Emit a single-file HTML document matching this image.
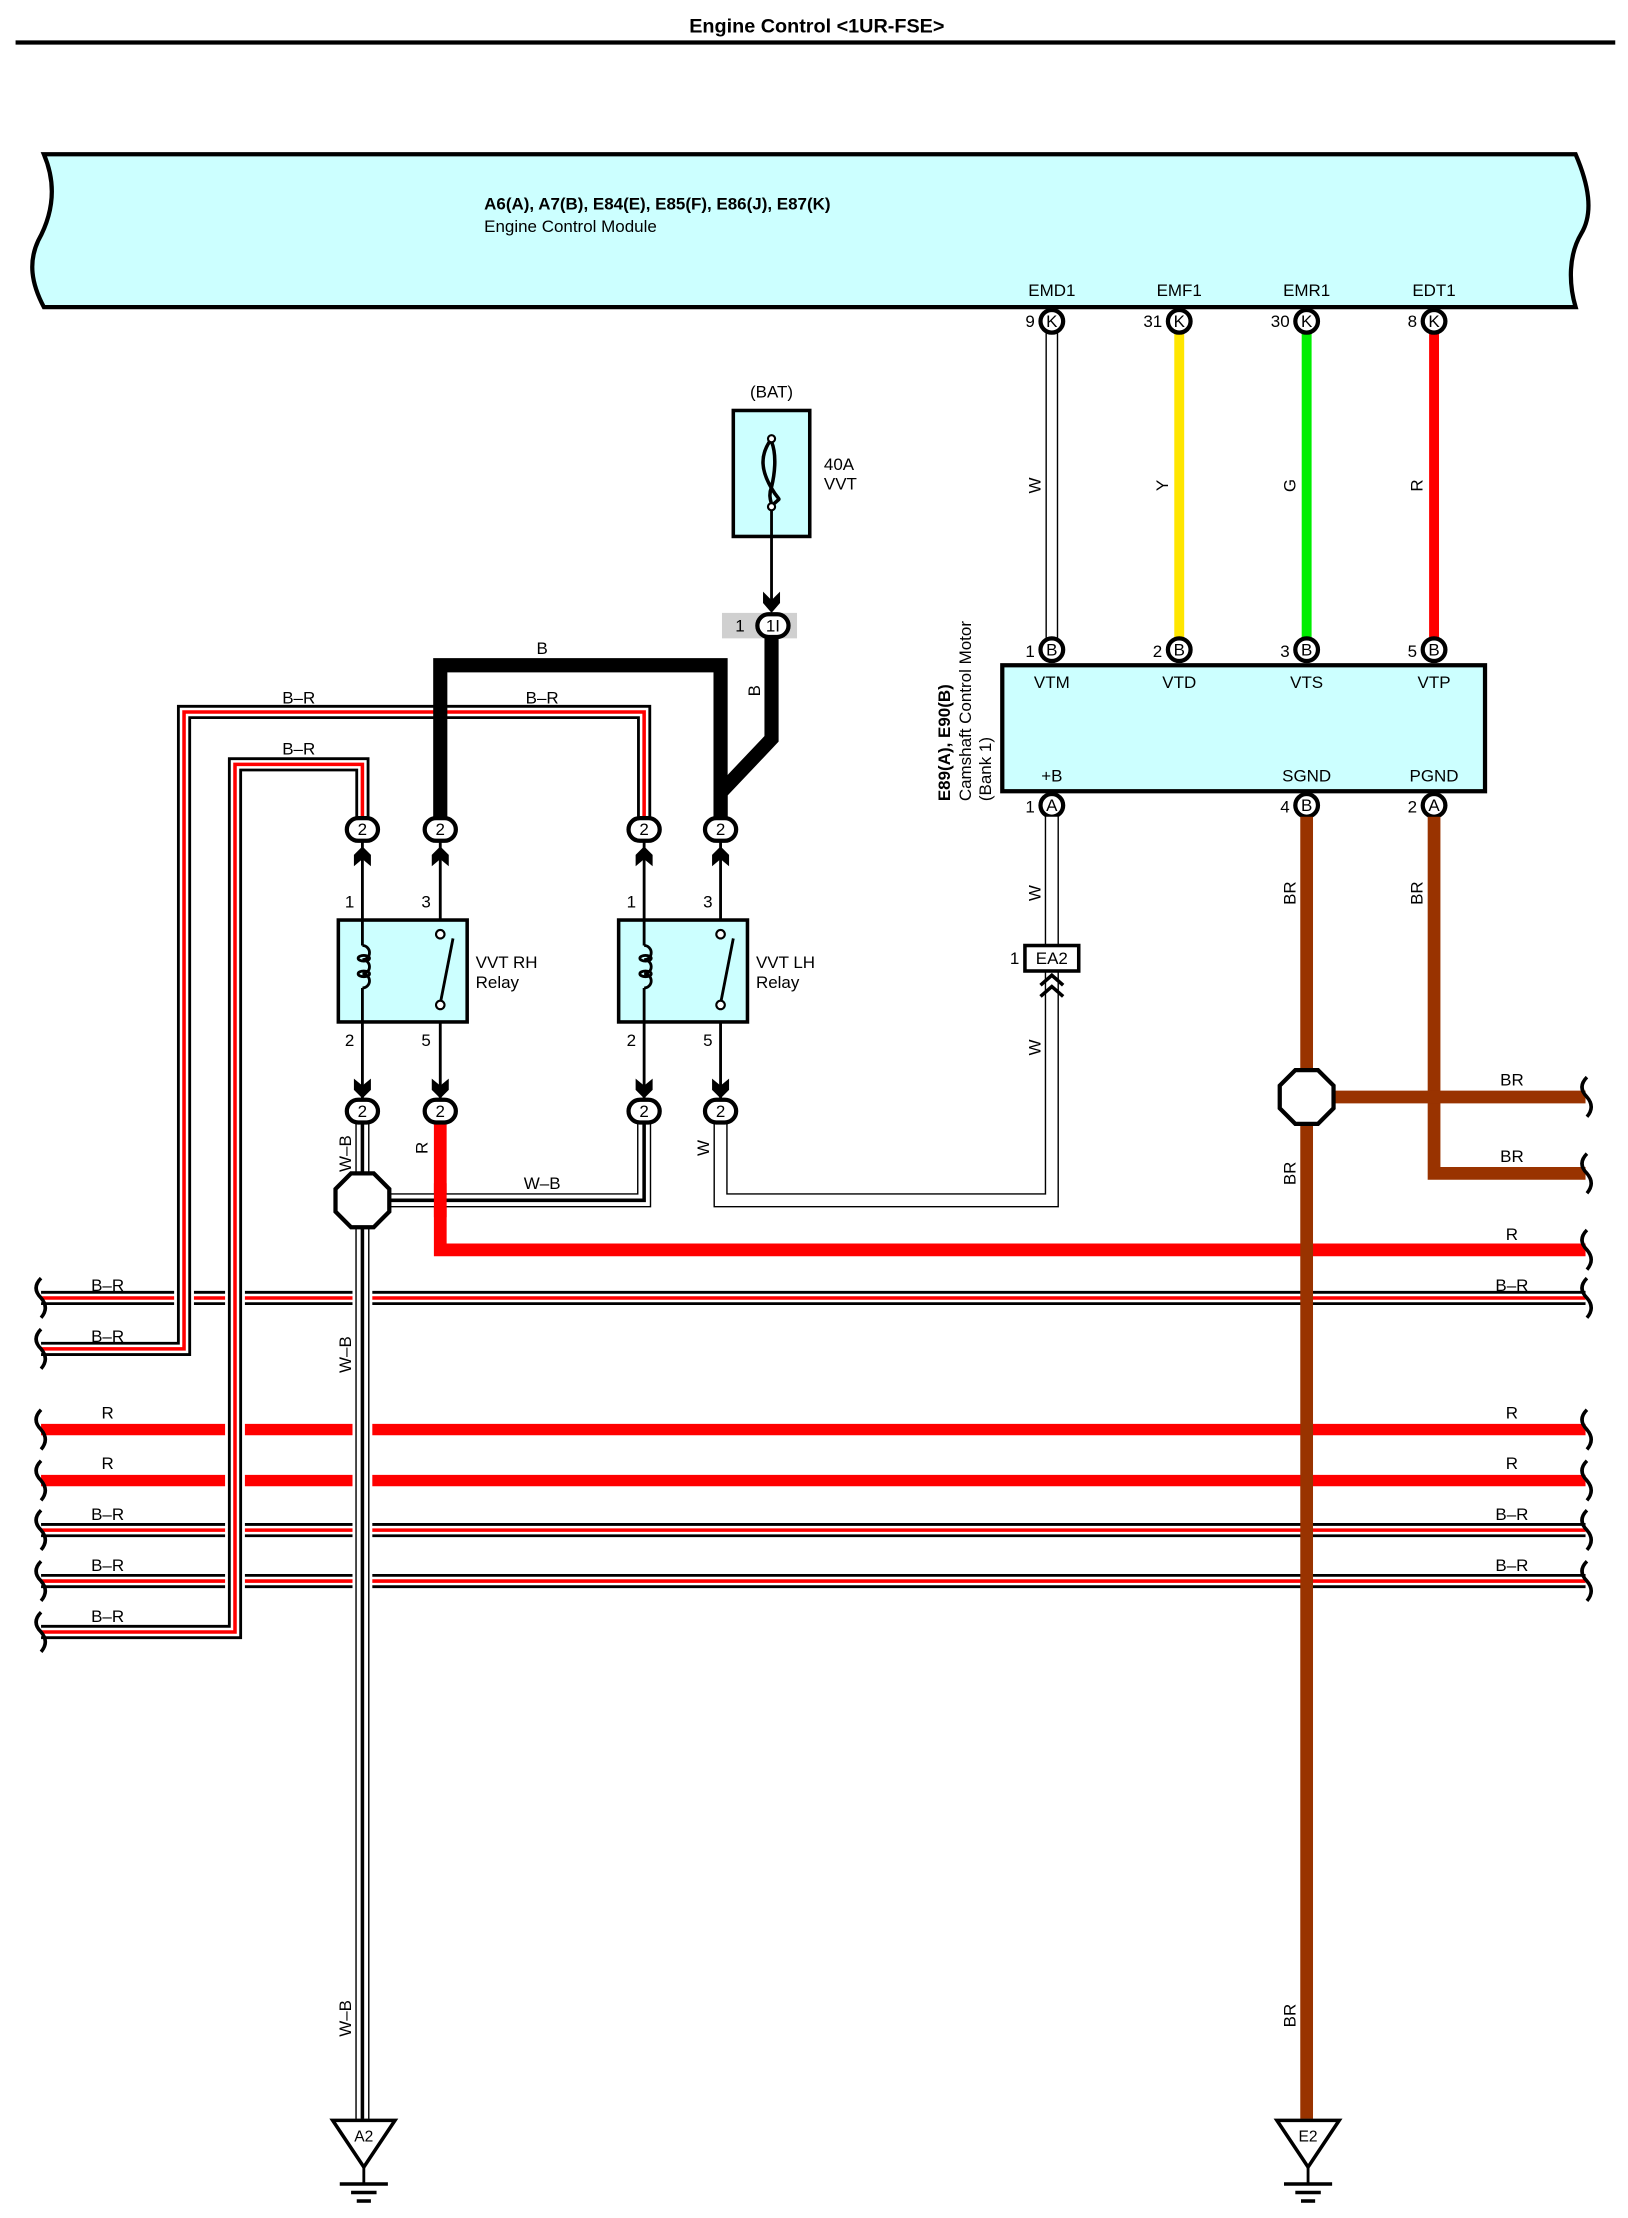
<!DOCTYPE html>
<html><head><meta charset="utf-8"><style>
html,body{margin:0;padding:0;background:#fff}
svg{display:block}
text{font-family:"Liberation Sans",sans-serif;font-size:12px;fill:#000}
</style></head><body>
<svg width="1628" height="2218" viewBox="0 0 1150 1567" preserveAspectRatio="none" xmlns="http://www.w3.org/2000/svg">
<rect width="1150" height="1567" fill="#fff"/>
<text x="577" y="23" text-anchor="middle" style="font-size:14px;font-weight:bold">Engine Control &lt;1UR-FSE&gt;</text>
<line x1="11" y1="30" x2="1141" y2="30" stroke="#000" stroke-width="3"/>

<path d="M31,109 L1113,109 C1122,130 1126,150 1117,165 C1108,180 1108,200 1113,217 L31,217 C22,200 20,185 27,170 C38,150 40,130 31,109 Z" fill="#ccffff" stroke="#000" stroke-width="3"/>
<text x="342" y="148" style="font-weight:bold;font-size:12px">A6(A), A7(B), E84(E), E85(F), E86(J), E87(K)</text>
<text x="342" y="164">Engine Control Module</text>
<g text-anchor="middle">
<text x="743" y="209">EMD1</text><text x="833" y="209">EMF1</text><text x="923" y="209">EMR1</text><text x="1013" y="209">EDT1</text>
</g>

<line x1="743" y1="227" x2="743" y2="459" stroke="#000" stroke-width="9"/>
<line x1="743" y1="227" x2="743" y2="459" stroke="#fff" stroke-width="7"/>
<line x1="833" y1="227" x2="833" y2="459" stroke="#ffe600" stroke-width="7"/>
<line x1="923" y1="227" x2="923" y2="459" stroke="#00ee00" stroke-width="7"/>
<line x1="1013" y1="227" x2="1013" y2="459" stroke="#ff0000" stroke-width="7"/>
<g text-anchor="middle">
<text transform="translate(735,343) rotate(-90)">W</text>
<text transform="translate(825,343) rotate(-90)">Y</text>
<text transform="translate(915,343) rotate(-90)">G</text>
<text transform="translate(1005,343) rotate(-90)">R</text>
</g>
<g fill="#fff" stroke="#000" stroke-width="3">
<circle cx="743" cy="227" r="8"/><circle cx="833" cy="227" r="8"/><circle cx="923" cy="227" r="8"/><circle cx="1013" cy="227" r="8"/>
<circle cx="743" cy="459" r="8"/><circle cx="833" cy="459" r="8"/><circle cx="923" cy="459" r="8"/><circle cx="1013" cy="459" r="8"/>
<circle cx="743" cy="569" r="8"/><circle cx="923" cy="569" r="8"/><circle cx="1013" cy="569" r="8"/>
</g>
<g text-anchor="middle" style="font-size:11px">
<text x="743" y="231">K</text><text x="833" y="231">K</text><text x="923" y="231">K</text><text x="1013" y="231">K</text>
<text x="743" y="463">B</text><text x="833" y="463">B</text><text x="923" y="463">B</text><text x="1013" y="463">B</text>
<text x="743" y="573">A</text><text x="923" y="573">B</text><text x="1013" y="573">A</text>
</g>
<g text-anchor="end">
<text x="731" y="231">9</text><text x="821" y="231">31</text><text x="911" y="231">30</text><text x="1001" y="231">8</text>
<text x="731" y="464">1</text><text x="821" y="464">2</text><text x="911" y="464">3</text><text x="1001" y="464">5</text>
<text x="731" y="574">1</text><text x="911" y="574">4</text><text x="1001" y="574">2</text>
</g>

<rect x="708" y="470" width="341" height="89" fill="#ccffff" stroke="#000" stroke-width="3"/>
<g text-anchor="middle">
<text x="743" y="486">VTM</text><text x="833" y="486">VTD</text><text x="923" y="486">VTS</text><text x="1013" y="486">VTP</text>
<text x="743" y="552">+B</text><text x="923" y="552">SGND</text><text x="1013" y="552">PGND</text>
</g>
<text transform="translate(671,566) rotate(-90)" style="font-weight:bold">E89(A), E90(B)</text>
<text transform="translate(686,566) rotate(-90)">Camshaft Control Motor</text>
<text transform="translate(700,566) rotate(-90)">(Bank 1)</text>

<g>
<line x1="29" y1="917" x2="1120" y2="917" stroke="#000" stroke-width="10"/>
<line x1="29" y1="917" x2="1120" y2="917" stroke="#fff" stroke-width="6"/>
<line x1="29" y1="917" x2="1120" y2="917" stroke="#f00" stroke-width="2.5"/>
<line x1="29" y1="1010" x2="1120" y2="1010" stroke="#f00" stroke-width="8"/>
<line x1="29" y1="1046" x2="1120" y2="1046" stroke="#f00" stroke-width="8"/>
<line x1="29" y1="1081" x2="1120" y2="1081" stroke="#000" stroke-width="10"/>
<line x1="29" y1="1081" x2="1120" y2="1081" stroke="#fff" stroke-width="6"/>
<line x1="29" y1="1081" x2="1120" y2="1081" stroke="#f00" stroke-width="2.5"/>
<line x1="29" y1="1117" x2="1120" y2="1117" stroke="#000" stroke-width="10"/>
<line x1="29" y1="1117" x2="1120" y2="1117" stroke="#fff" stroke-width="6"/>
<line x1="29" y1="1117" x2="1120" y2="1117" stroke="#f00" stroke-width="2.5"/>
</g>

<g fill="none" stroke-linejoin="miter">
<path d="M29,953 L130,953 L130,503 L455,503 L455,586" stroke="#fff" stroke-width="14"/>
<path d="M29,953 L130,953 L130,503 L455,503 L455,586" stroke="#000" stroke-width="10"/>
<path d="M29,953 L130,953 L130,503 L455,503 L455,586" stroke="#fff" stroke-width="6"/>
<path d="M29,953 L130,953 L130,503 L455,503 L455,586" stroke="#f00" stroke-width="2.5"/>
<path d="M29,1153 L166,1153 L166,540 L256,540 L256,586" stroke="#fff" stroke-width="14"/>
<path d="M29,1153 L166,1153 L166,540 L256,540 L256,586" stroke="#000" stroke-width="10"/>
<path d="M29,1153 L166,1153 L166,540 L256,540 L256,586" stroke="#fff" stroke-width="6"/>
<path d="M29,1153 L166,1153 L166,540 L256,540 L256,586" stroke="#f00" stroke-width="2.5"/>
</g>

<path d="M311,586 L311,470 L509,470 L509,586" fill="none" stroke="#000" stroke-width="10"/>
<path d="M545,450 L545,522 L509,560 L509,586" fill="none" stroke="#000" stroke-width="10"/>
<text x="383" y="462" text-anchor="middle">B</text>
<text transform="translate(537,488) rotate(-90)" text-anchor="middle">B</text>
<g text-anchor="middle">
<text x="211" y="497">B–R</text><text x="383" y="497">B–R</text><text x="211" y="533">B–R</text>
</g>

<text x="545" y="281" text-anchor="middle">(BAT)</text>
<rect x="518" y="290" width="54" height="89" fill="#ccffff" stroke="#000" stroke-width="2.5"/>
<path d="M545,310 C536,322 538,333 545,345 C552,357 552,349 545,358 M545,312 C549,322 547,336 545,344 C542,352 546,356 545,358" fill="none" stroke="#000" stroke-width="2.5"/>
<circle cx="545" cy="310" r="2.5" fill="#fff" stroke="#000" stroke-width="1.5"/>
<circle cx="545" cy="358" r="2.5" fill="#fff" stroke="#000" stroke-width="1.5"/>
<text x="582" y="332">40A</text><text x="582" y="346">VVT</text>
<line x1="545" y1="361" x2="545" y2="430" stroke="#000" stroke-width="2"/>
<polygon points="539,418 545,424 551,418 551,426 545,433 539,426" fill="#000"/>
<rect x="510" y="433" width="53" height="18" fill="#d0d0d0"/>
<rect x="535" y="434" width="22" height="16" rx="8" fill="#fff" stroke="#000" stroke-width="3"/>
<text x="546" y="446" text-anchor="middle">1I</text>
<text x="526" y="446" text-anchor="end">1</text>

<g stroke="#000" stroke-width="2">
<line x1="256" y1="594" x2="256" y2="777"/><line x1="311" y1="594" x2="311" y2="777"/>
<line x1="455" y1="594" x2="455" y2="777"/><line x1="509" y1="594" x2="509" y2="777"/>
</g>
<rect x="239" y="650" width="91" height="72" fill="#ccffff" stroke="#000" stroke-width="2.5"/>
<rect x="437" y="650" width="91" height="72" fill="#ccffff" stroke="#000" stroke-width="2.5"/>
<g fill="none" stroke="#000" stroke-width="2">
<line x1="256" y1="650" x2="256" y2="668"/><line x1="256" y1="698" x2="256" y2="722"/>
<line x1="455" y1="650" x2="455" y2="668"/><line x1="455" y1="698" x2="455" y2="722"/>
<path d="M256,668 a5,5 0 0 1 0,10 a5,5 0 0 1 0,10 a5,5 0 0 1 0,10"/>
<path d="M455,668 a5,5 0 0 1 0,10 a5,5 0 0 1 0,10 a5,5 0 0 1 0,10"/>
<ellipse cx="257" cy="677" rx="4" ry="2"/><ellipse cx="257" cy="688" rx="4" ry="2"/>
<ellipse cx="456" cy="677" rx="4" ry="2"/><ellipse cx="456" cy="688" rx="4" ry="2"/>
<line x1="311" y1="709" x2="320" y2="663"/><line x1="509" y1="709" x2="518" y2="663"/>
</g>
<g fill="#fff" stroke="#000" stroke-width="1.5">
<circle cx="311" cy="660" r="3"/><circle cx="311" cy="710" r="3"/>
<circle cx="509" cy="660" r="3"/><circle cx="509" cy="710" r="3"/>
</g>
<text x="336" y="684">VVT RH</text><text x="336" y="698">Relay</text>
<text x="534" y="684">VVT LH</text><text x="534" y="698">Relay</text>
<g text-anchor="middle">
<text x="247" y="641">1</text><text x="301" y="641">3</text><text x="446" y="641">1</text><text x="500" y="641">3</text>
<text x="247" y="739">2</text><text x="301" y="739">5</text><text x="446" y="739">2</text><text x="500" y="739">5</text>
</g>
<g fill="#000">
<polygon points="250,612 250,604 256,598 262,604 262,612 256,607"/>
<polygon points="305,612 305,604 311,598 317,604 317,612 311,607"/>
<polygon points="449,612 449,604 455,598 461,604 461,612 455,607"/>
<polygon points="503,612 503,604 509,598 515,604 515,612 509,607"/>
<polygon points="250,762 256,767 262,762 262,770 256,776 250,770"/>
<polygon points="305,762 311,767 317,762 317,770 311,776 305,770"/>
<polygon points="449,762 455,767 461,762 461,770 455,776 449,770"/>
<polygon points="503,762 509,767 515,762 515,770 509,776 503,770"/>
</g>

<path d="M509,792 L509,848 L743,848 L743,686" fill="none" stroke="#000" stroke-width="10"/>
<path d="M509,792 L509,848 L743,848 L743,686" fill="none" stroke="#fff" stroke-width="8"/>
<line x1="743" y1="577" x2="743" y2="668" stroke="#000" stroke-width="10"/>
<line x1="743" y1="577" x2="743" y2="668" stroke="#fff" stroke-width="8"/>
<rect x="724" y="668" width="38" height="18" fill="#fff" stroke="#000" stroke-width="2.5"/>
<text x="743" y="681" text-anchor="middle">EA2</text>
<text x="720" y="681" text-anchor="end">1</text>
<g fill="none" stroke="#000" stroke-width="2.5">
<polyline points="735,696 743,689 751,696"/><polyline points="735,704 743,697 751,704"/>
</g>
<text transform="translate(735,631) rotate(-90)" text-anchor="middle">W</text>
<text transform="translate(735,740) rotate(-90)" text-anchor="middle">W</text>
<text transform="translate(501,811) rotate(-90)" text-anchor="middle">W</text>

<path d="M311,792 L311,883 L1120,883" fill="none" stroke="#f00" stroke-width="9"/>
<text transform="translate(302,811) rotate(-90)" text-anchor="middle">R</text>

<path d="M455,792 L455,848 L256,848" fill="none" stroke="#000" stroke-width="10"/>
<path d="M455,792 L455,848 L256,848" fill="none" stroke="#fff" stroke-width="8"/>
<path d="M455,792 L455,848 L256,848" fill="none" stroke="#000" stroke-width="2.5"/>
<line x1="256" y1="792" x2="256" y2="1497" stroke="#fff" stroke-width="14"/>
<line x1="256" y1="792" x2="256" y2="1497" stroke="#000" stroke-width="10"/>
<line x1="256" y1="792" x2="256" y2="1497" stroke="#fff" stroke-width="8"/>
<line x1="256" y1="792" x2="256" y2="1497" stroke="#000" stroke-width="2.5"/>
<line x1="311" y1="836" x2="311" y2="860" stroke="#f00" stroke-width="9"/>
<text x="383" y="840" text-anchor="middle">W–B</text>
<text transform="translate(248,815) rotate(-90)" text-anchor="middle">W–B</text>
<text transform="translate(248,957) rotate(-90)" text-anchor="middle">W–B</text>
<text transform="translate(248,1426) rotate(-90)" text-anchor="middle">W–B</text>
<polygon points="248,829 264,829 275,840 275,856 264,867 248,867 237,856 237,840" fill="#fff" stroke="#000" stroke-width="3"/>

<path d="M1013,577 L1013,829 L1120,829" fill="none" stroke="#993300" stroke-width="9"/>
<line x1="923" y1="775" x2="1120" y2="775" stroke="#993300" stroke-width="9"/>
<line x1="923" y1="577" x2="923" y2="1497" stroke="#993300" stroke-width="9"/>
<polygon points="915,756 931,756 942,767 942,783 931,794 915,794 904,783 904,767" fill="#fff" stroke="#000" stroke-width="3"/>
<g text-anchor="middle">
<text transform="translate(915,631) rotate(-90)">BR</text>
<text transform="translate(1005,631) rotate(-90)">BR</text>
<text transform="translate(915,829) rotate(-90)">BR</text>
<text transform="translate(915,1424) rotate(-90)">BR</text>
<text x="1068" y="767">BR</text><text x="1068" y="821">BR</text><text x="1068" y="876">R</text>
<text x="1068" y="912">B–R</text><text x="1068" y="1002">R</text><text x="1068" y="1038">R</text>
<text x="1068" y="1074">B–R</text><text x="1068" y="1110">B–R</text>
<text x="76" y="912">B–R</text><text x="76" y="948">B–R</text><text x="76" y="1002">R</text><text x="76" y="1038">R</text>
<text x="76" y="1074">B–R</text><text x="76" y="1110">B–R</text><text x="76" y="1146">B–R</text>
</g>

<g fill="#fff" stroke="#000" stroke-width="3">
<rect x="245" y="578" width="22" height="16" rx="8"/><rect x="300" y="578" width="22" height="16" rx="8"/>
<rect x="444" y="578" width="22" height="16" rx="8"/><rect x="498" y="578" width="22" height="16" rx="8"/>
<rect x="245" y="777" width="22" height="16" rx="8"/><rect x="300" y="777" width="22" height="16" rx="8"/>
<rect x="444" y="777" width="22" height="16" rx="8"/><rect x="498" y="777" width="22" height="16" rx="8"/>
</g>
<g text-anchor="middle">
<text x="256" y="590">2</text><text x="311" y="590">2</text><text x="455" y="590">2</text><text x="509" y="590">2</text>
<text x="256" y="789">2</text><text x="311" y="789">2</text><text x="455" y="789">2</text><text x="509" y="789">2</text>
</g>

<g fill="none" stroke="#000" stroke-width="2.5">
<path d="M1121,761 q-7,7 0,14 q6,7 0,14"/>
<path d="M1121,815 q-7,7 0,14 q6,7 0,14"/>
<path d="M1121,869 q-7,7 0,14 q6,7 0,14"/>
<path d="M1121,903 q-7,7 0,14 q6,7 0,14"/>
<path d="M1121,996 q-7,7 0,14 q6,7 0,14"/>
<path d="M1121,1032 q-7,7 0,14 q6,7 0,14"/>
<path d="M1121,1067 q-7,7 0,14 q6,7 0,14"/>
<path d="M1121,1103 q-7,7 0,14 q6,7 0,14"/>
<path d="M29,903 q-7,7 0,14 q6,7 0,14"/>
<path d="M29,939 q-7,7 0,14 q6,7 0,14"/>
<path d="M29,996 q-7,7 0,14 q6,7 0,14"/>
<path d="M29,1032 q-7,7 0,14 q6,7 0,14"/>
<path d="M29,1067 q-7,7 0,14 q6,7 0,14"/>
<path d="M29,1103 q-7,7 0,14 q6,7 0,14"/>
<path d="M29,1139 q-7,7 0,14 q6,7 0,14"/>
</g>

<g fill="#fff" stroke="#000" stroke-width="2.5">
<polygon points="235,1498 279,1498 257,1531"/>
<polygon points="902,1498 946,1498 924,1531"/>
</g>
<g stroke="#000">
<line x1="257" y1="1531" x2="257" y2="1543" stroke-width="2"/>
<line x1="240" y1="1543" x2="274" y2="1543" stroke-width="2.5"/>
<line x1="248" y1="1549" x2="266" y2="1549" stroke-width="2.5"/>
<line x1="252" y1="1555" x2="262" y2="1555" stroke-width="2.5"/>
<line x1="924" y1="1531" x2="924" y2="1543" stroke-width="2"/>
<line x1="907" y1="1543" x2="941" y2="1543" stroke-width="2.5"/>
<line x1="915" y1="1549" x2="933" y2="1549" stroke-width="2.5"/>
<line x1="919" y1="1555" x2="929" y2="1555" stroke-width="2.5"/>
</g>
<text x="257" y="1513" text-anchor="middle" style="font-size:11px">A2</text>
<text x="924" y="1513" text-anchor="middle" style="font-size:11px">E2</text>
</svg>
</body></html>
